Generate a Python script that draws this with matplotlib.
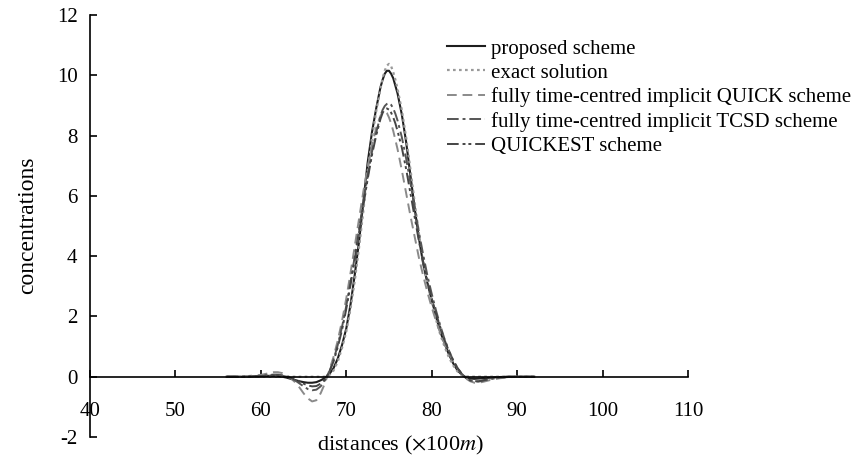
import numpy as np
import matplotlib
matplotlib.use("Agg")
import matplotlib.pyplot as plt

plt.rcParams['font.family'] = ['Liberation Serif', 'DejaVu Serif']
plt.rcParams['mathtext.fontset'] = 'stix'
plt.rcParams['axes.unicode_minus'] = False

# sample positions (x100 m)
distances = [56, 58, 60, 61, 61.5, 62, 62.5, 63, 63.5, 64, 64.5, 65, 65.5, 66, 66.5,
             67, 67.5, 68, 68.5, 69, 69.5, 70, 70.5, 71, 71.5, 72, 72.5, 73, 73.5,
             74, 74.25, 74.5, 74.75, 75, 75.25, 75.5, 75.75, 76, 76.5, 77, 77.5, 78,
             78.5, 79, 79.5, 80, 80.5, 81, 81.5, 82, 82.5, 83, 83.5, 84, 84.5, 85,
             85.5, 86, 87, 88, 89, 90, 92]

proposed = [0, 0, 0.02, 0.03, 0.03, 0.02, 0.0, -0.03, -0.07, -0.11, -0.15, -0.18, -0.2, -0.2, -0.18,
            -0.12, -0.04, 0.08, 0.28, 0.6, 1.05, 1.6, 2.4, 3.4, 4.5, 5.8, 7.1, 8.1, 8.9,
            9.6, 9.85, 10.05, 10.15, 10.15, 10.05, 9.9, 9.65, 9.4, 8.7, 7.8, 6.7, 5.6,
            4.6, 3.75, 3.1, 2.55, 2.0, 1.5, 1.1, 0.75, 0.45, 0.22, 0.07, -0.02, -0.06, -0.07,
            -0.06, -0.05, -0.03, -0.01, 0, 0, 0]

exact = [0, 0, 0, 0, 0, 0, 0, 0, 0, 0, 0, 0, 0, 0, 0,
         0, 0, 0.05, 0.2, 0.5, 0.95, 1.5, 2.25, 3.2, 4.3, 5.5, 6.8, 7.9, 8.8,
         9.55, 9.9, 10.15, 10.32, 10.38, 10.3, 10.1, 9.85, 9.55, 8.85, 7.95, 6.9, 5.8,
         4.75, 3.85, 3.1, 2.5, 1.9, 1.4, 1.0, 0.65, 0.38, 0.18, 0.06, 0.01, 0, 0,
         0, 0, 0, 0, 0, 0, 0]

quick = [0, 0.01, 0.06, 0.12, 0.15, 0.15, 0.12, 0.05, -0.05, -0.18, -0.35, -0.55, -0.72, -0.82, -0.78,
         -0.55, -0.22, 0.2, 0.65, 1.2, 1.85, 2.6, 3.45, 4.35, 5.25, 6.15, 6.95, 7.65, 8.25,
         8.65, 8.78, 8.82, 8.75, 8.6, 8.4, 8.15, 7.85, 7.55, 6.85, 6.1, 5.35, 4.65,
         3.95, 3.35, 2.8, 2.3, 1.85, 1.45, 1.1, 0.8, 0.5, 0.28, 0.08, -0.06, -0.15, -0.2,
         -0.2, -0.17, -0.1, -0.05, -0.02, 0, 0]

tcsd = [0, 0, 0.03, 0.06, 0.07, 0.07, 0.05, 0.01, -0.05, -0.12, -0.22, -0.32, -0.41, -0.45, -0.43,
        -0.32, -0.12, 0.15, 0.55, 1.05, 1.65, 2.35, 3.15, 4.0, 4.9, 5.8, 6.65, 7.45, 8.1,
        8.65, 8.85, 8.98, 9.05, 9.08, 9.02, 8.9, 8.72, 8.5, 7.95, 7.25, 6.45, 5.6,
        4.8, 4.05, 3.35, 2.75, 2.2, 1.7, 1.25, 0.88, 0.55, 0.3, 0.1, -0.04, -0.12, -0.16,
        -0.16, -0.13, -0.07, -0.03, -0.01, 0, 0]

quickest = [0, 0, 0.02, 0.04, 0.05, 0.05, 0.03, 0.0, -0.04, -0.09, -0.16, -0.23, -0.29, -0.32, -0.31,
            -0.23, -0.08, 0.15, 0.5, 0.98, 1.55, 2.25, 3.05, 3.9, 4.8, 5.7, 6.55, 7.35, 8.0,
            8.55, 8.75, 8.87, 8.9, 8.86, 8.76, 8.6, 8.4, 8.15, 7.6, 6.9, 6.1, 5.3,
            4.5, 3.8, 3.15, 2.6, 2.1, 1.65, 1.22, 0.86, 0.55, 0.3, 0.1, -0.04, -0.12, -0.15,
            -0.15, -0.12, -0.06, -0.02, 0, 0, 0]

x_ticks = [40, 50, 60, 70, 80, 90, 100, 110]
y_ticks = [-2, 0, 2, 4, 6, 8, 10, 12]

fig = plt.figure(figsize=(8.56, 4.62), dpi=100)
ax = fig.add_axes([90/856, 25/462, 598/856, 422/462])

ax.plot(distances, proposed, '-', color='#1e1e1e', lw=1.5, label='proposed scheme')
ax.plot(distances, exact, color='#999999', lw=1.6, linestyle=(0, (1.2, 1.5)), label='exact solution')
ax.plot(distances, quick, color='#8a8a8a', lw=1.4, linestyle=(0, (5, 3)),
        label='fully time-centred implicit QUICK scheme')
ax.plot(distances, tcsd, color='#555555', lw=1.4, linestyle=(0, (6, 2, 1.5, 2)),
        label='fully time-centred implicit TCSD scheme')
ax.plot(distances, quickest, color='#444444', lw=1.4, linestyle=(0, (6, 2, 1.5, 1.5, 1.5, 2)),
        label='QUICKEST scheme')

ax.set_xlim(40, 110)
ax.set_ylim(-2, 12)
ax.set_xticks(x_ticks)
ax.set_yticks(y_ticks)

# axes drawn through the origin like the original figure
ax.spines['bottom'].set_position(('data', 0))
ax.spines['top'].set_visible(False)
ax.spines['right'].set_visible(False)
for s in ['bottom', 'left']:
    ax.spines[s].set_linewidth(1.2)
ax.tick_params(axis='x', direction='in', length=5, width=1.2, pad=18, labelsize=15)
ax.tick_params(axis='y', direction='in', length=5, width=1.2, pad=9, labelsize=15)

fig.text(28/856, 1 - 225/462, 'concentrations', rotation=90, ha='center', va='center', fontsize=17)
fig.text(400/856, 1 - 445/462, r'distances ($\times$100$m$)', ha='center', va='center', fontsize=16)

ax.legend(loc='upper left', bbox_to_anchor=(447/856, 1 - 39/462), bbox_transform=fig.transFigure,
          frameon=False, fontsize=15, handlelength=1.8, handletextpad=0.3, labelspacing=0.22,
          borderpad=0, borderaxespad=0)

fig.savefig('out.png', dpi=100)
